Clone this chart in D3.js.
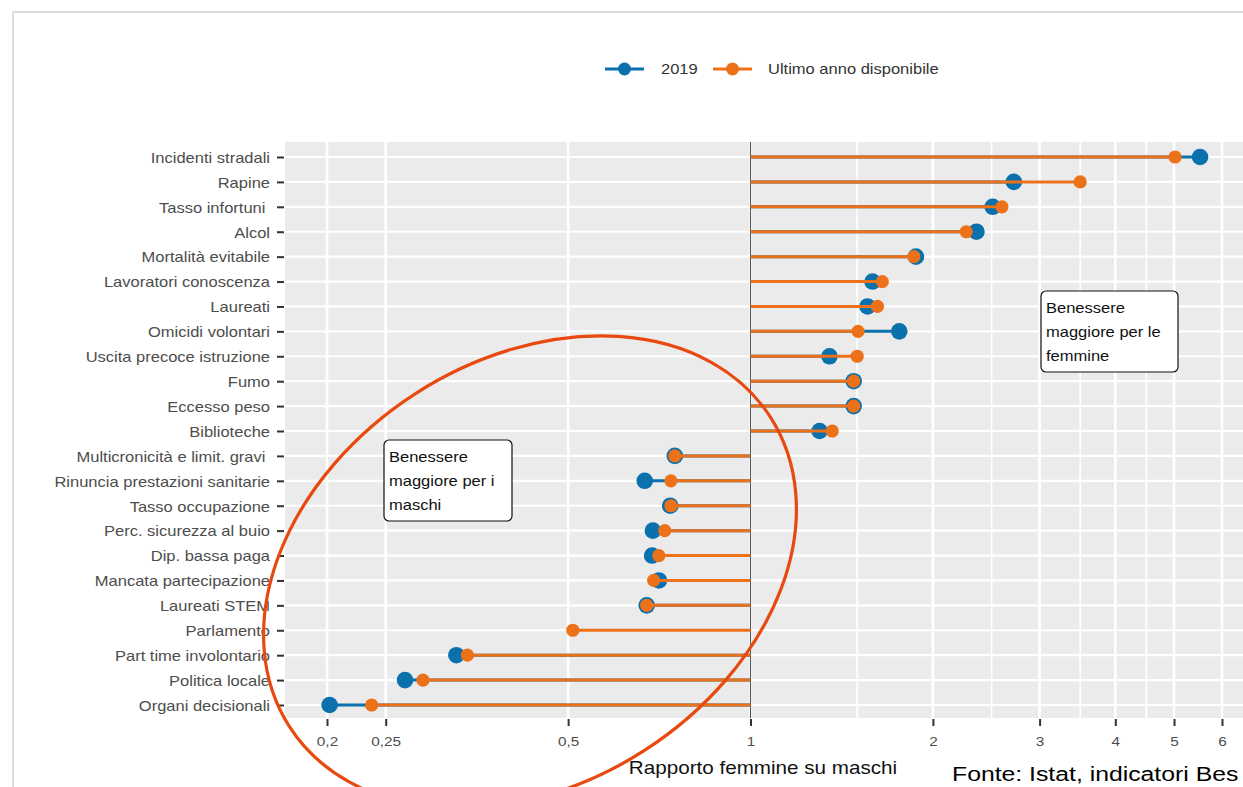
<!DOCTYPE html>
<html>
<head>
<meta charset="utf-8">
<script src="https://cdn.jsdelivr.net/npm/d3@7"></script>
<style>
  html, body { margin: 0; padding: 0; background: #fff; }
  svg { display: block; font-family: "Liberation Sans", Arial, sans-serif; }
</style>
</head>
<body>
<svg id="chart" width="1243" height="787"></svg>
<script>
// ---- DATA ----
const categories = [
  "Incidenti stradali", "Rapine", "Tasso infortuni ", "Alcol", "Mortalità evitabile",
  "Lavoratori conoscenza", "Laureati", "Omicidi volontari", "Uscita precoce istruzione",
  "Fumo", "Eccesso peso", "Biblioteche", "Multicronicità e limit. gravi ",
  "Rinuncia prestazioni sanitarie", "Tasso occupazione", "Perc. sicurezza al buio",
  "Dip. bassa paga", "Mancata partecipazione", "Laureati STEM", "Parlamento",
  "Part time involontario", "Politica locale", "Organi decisionali"
];
const values2019 = [5.52, 2.72, 2.51, 2.36, 1.875, 1.59, 1.56, 1.76, 1.35, 1.48, 1.48, 1.30,
  0.75, 0.669, 0.737, 0.690, 0.688, 0.706, 0.674, null, 0.327, 0.269, 0.202];
const valuesLast = [5.02, 3.50, 2.60, 2.27, 1.86, 1.65, 1.62, 1.505, 1.50, 1.48, 1.48, 1.364,
  0.75, 0.739, 0.739, 0.722, 0.706, 0.692, 0.674, 0.509, 0.341, 0.288, 0.237];
const xTicks = [0.2, 0.25, 0.5, 1, 2, 3, 4, 5, 6];
const xTickLabels = ["0,2", "0,25", "0,5", "1", "2", "3", "4", "5", "6"];
const xMinor = [1.5, 2.5, 3.5, 4.5];
const seriesNames = ["2019", "Ultimo anno disponibile"];
const noteF = ["Benessere", "maggiore per le", "femmine"];
const noteM = ["Benessere", "maggiore per i", "maschi"];
const xTitle = "Rapporto femmine su maschi";
const source = "Fonte: Istat, indicatori Bes";

// ---- STYLE ----
const BLUE = "#0b71ad", ORANGE = "#ec7118", RED = "#e8490f";
const SX = 1.18; // horizontal text stretch seen in the reference
const W = 1243, H = 787;
const panel = { left: 285, right: 1250, top: 142, bottom: 718 };

const svg = d3.select("#chart");

function stext(parent, x0, y0, str, size, fill, anchor) {
  return parent.append("text")
    .attr("transform", `translate(${x0},${y0}) scale(${SX},1)`)
    .attr("text-anchor", anchor || "start")
    .attr("font-size", size).attr("fill", fill).text(str);
}

// frame
svg.append("path").attr("d", `M13,${H} L13,12 L${W},12`)
  .attr("fill", "none").attr("stroke", "#dcdcdc").attr("stroke-width", 2);

const x = d3.scaleLog().domain([0.2, 6]).range([327, 1222]);
const y = d3.scalePoint().domain(categories).range([157, 705]);

// panel bg
svg.append("rect").attr("x", panel.left).attr("y", panel.top)
  .attr("width", panel.right - panel.left).attr("height", panel.bottom - panel.top)
  .attr("fill", "#ebebeb");

// grid
const g = svg.append("g");
g.selectAll(".hg").data(categories).join("line")
  .attr("x1", panel.left).attr("x2", panel.right)
  .attr("y1", d => y(d)).attr("y2", d => y(d))
  .attr("stroke", "#fff").attr("stroke-width", 2.2);
g.selectAll(".vmin").data(xMinor).join("line")
  .attr("x1", d => x(d)).attr("x2", d => x(d))
  .attr("y1", panel.top).attr("y2", panel.bottom)
  .attr("stroke", "#fff").attr("stroke-width", 1.6);
g.selectAll(".vmaj").data(xTicks).join("line")
  .attr("x1", d => x(d)).attr("x2", d => x(d))
  .attr("y1", panel.top).attr("y2", panel.bottom)
  .attr("stroke", "#fff").attr("stroke-width", 2.6);

// reference line at 1
svg.append("line").attr("x1", x(1)).attr("x2", x(1))
  .attr("y1", panel.top).attr("y2", panel.bottom)
  .attr("stroke", "#555").attr("stroke-width", 1.1);

// axes
const yAxis = d3.axisLeft(y).tickSize(7).tickPadding(6);
const ya = svg.append("g").attr("transform", `translate(${panel.left - 1},0)`).call(yAxis);
ya.select(".domain").remove();
ya.selectAll(".tick line").attr("stroke", "#333").attr("stroke-width", 2);
ya.selectAll(".tick text").attr("fill", "#4d4d4d").attr("font-size", 14)
  .style("white-space", "pre")
  .attr("x", -14 / SX).attr("dy", "0.38em")
  .attr("transform", `scale(${SX},1)`);

const xAxis = d3.axisBottom(x).tickValues(xTicks).tickFormat((d, i) => xTickLabels[i]).tickSize(7).tickPadding(11);
const xa = svg.append("g").attr("transform", `translate(0,${panel.bottom + 1})`).call(xAxis);
xa.select(".domain").remove();
xa.selectAll(".tick line").attr("stroke", "#333").attr("stroke-width", 2);
xa.selectAll(".tick text").attr("fill", "#4d4d4d").attr("font-size", 13)
  .attr("transform", `scale(${SX},1)`);

// data
const rows = categories.map((c, i) => ({ c, a: values2019[i], b: valuesLast[i] }));
const marks = svg.append("g");
marks.selectAll(".segA").data(rows.filter(d => d.a != null)).join("line")
  .attr("x1", x(1)).attr("x2", d => x(d.a)).attr("y1", d => y(d.c)).attr("y2", d => y(d.c))
  .attr("stroke", BLUE).attr("stroke-width", 3);
marks.selectAll(".dotA").data(rows.filter(d => d.a != null)).join("circle")
  .attr("cx", d => x(d.a)).attr("cy", d => y(d.c)).attr("r", 8.3).attr("fill", BLUE);
marks.selectAll(".segB").data(rows).join("line")
  .attr("x1", x(1)).attr("x2", d => x(d.b)).attr("y1", d => y(d.c)).attr("y2", d => y(d.c))
  .attr("stroke", ORANGE).attr("stroke-width", 3);
marks.selectAll(".dotB").data(rows).join("circle")
  .attr("cx", d => x(d.b)).attr("cy", d => y(d.c)).attr("r", 6.6).attr("fill", ORANGE);

// legend
const leg = svg.append("g");
const legItems = [{ n: seriesNames[0], c: BLUE, x0: 605, tx: 661 }, { n: seriesNames[1], c: ORANGE, x0: 713, tx: 768 }];
legItems.forEach(it => {
  leg.append("line").attr("x1", it.x0).attr("x2", it.x0 + 39).attr("y1", 69).attr("y2", 69)
    .attr("stroke", it.c).attr("stroke-width", 3);
  leg.append("circle").attr("cx", it.x0 + 19.5).attr("cy", 69).attr("r", 6.5).attr("fill", it.c);
  stext(leg, it.tx, 74, it.n, 14, "#333");
});

// notes
function note(x0, y0, w, h, lines) {
  const ng = svg.append("g");
  ng.append("rect").attr("x", x0).attr("y", y0).attr("width", w).attr("height", h)
    .attr("rx", 5).attr("fill", "#fff").attr("stroke", "#111").attr("stroke-width", 1.2);
  lines.forEach((t, i) => stext(ng, x0 + 5, y0 + 22 + i * 24, t, 14, "#111"));
}
note(1041, 291, 137, 81, noteF);
note(384, 440, 128, 81, noteM);

// titles
stext(svg, 763, 774, xTitle, 17.5, "#111", "middle");
stext(svg, 952, 781, source, 21, "#000");

// red hand-drawn ellipse
svg.append("ellipse").attr("cx", 0).attr("cy", 0).attr("rx", 286).attr("ry", 212)
  .attr("transform", "translate(530,572) rotate(-32.8)")
  .attr("fill", "none").attr("stroke", RED).attr("stroke-width", 3.2);
</script>
</body>
</html>
